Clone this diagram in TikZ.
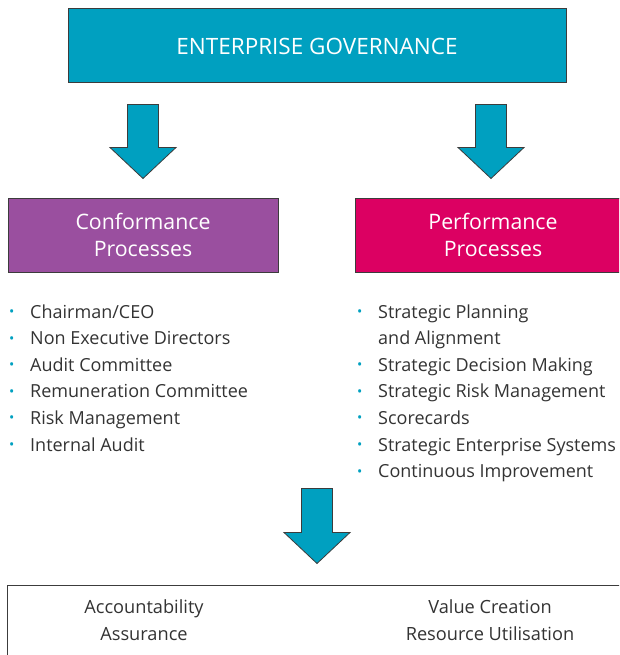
\documentclass[tikz,border=0pt]{standalone}
\usepackage{fontspec}
\setmainfont{Open Sans}
\usetikzlibrary{calc}
\definecolor{govblue}{HTML}{00A0C0}
\definecolor{confpurple}{HTML}{9A4F9F}
\definecolor{perfred}{HTML}{DC0062}
\definecolor{textgray}{HTML}{333333}
\definecolor{boxline}{HTML}{3C3C3C}
% block arrow pointing down: (top of shaft)(tip)
\def\blockarrow(#1)(#2){\draw[arrowfill] ($(#1)+(-15.5,0)$) -- ($(#1)+(15.5,0)$) -- ($(#2)+(15.5,-31)$) -- ($(#2)+(33,-31)$) -- (#2) -- ($(#2)+(-33,-31)$) -- ($(#2)+(-15.5,-31)$) -- cycle;}
\newcommand{\bul}{\makebox[21pt][l]{\textcolor{govblue}{\fontsize{14}{14}\selectfont\raisebox{1.6pt}{•}}}}

\begin{document}
\begin{tikzpicture}[x=1pt,y=-1pt,
  box/.style={draw=boxline, line width=1pt, inner sep=0pt, text=white, align=center, minimum height=74pt},
  arrowfill/.style={fill=govblue, draw=boxline, line width=0.8pt, line join=miter},
  itemlist/.style={anchor=base west, align=left, inner sep=0pt, text=textgray, font=\fontsize{18}{26.6}\selectfont},
  outcome/.style={align=center, inner sep=0pt, text=textgray, font=\fontsize{18.2}{26.5}\selectfont}]
		%%%%% START %%%%%
		\useasboundingbox (0,0) rectangle (619,655);
		\clip (0,0) rectangle (619,655);
		
		\node[box, fill=govblue, minimum width=498pt, font=\fontsize{22.5}{24}\selectfont] (gov) at (317,46) {ENTERPRISE GOVERNANCE};
		
		\node[box, fill=confpurple, minimum width=270pt, font=\fontsize{21.3}{26.5}\selectfont] (conf) at (143,235) {Conformance\\Processes};
		\node[box, fill=perfred, minimum width=276pt, font=\fontsize{21.3}{26.5}\selectfont] (perf) at (493,235) {Performance\\Processes};
		
		\coordinate (arrLtop) at ($(gov.south -| conf.north)+(0,21)$);
		\coordinate (arrLtip) at ($(conf.north)+(0,-19)$);
		\coordinate (arrRtop) at ($(gov.south -| 491,0)+(0,21)$);
		\coordinate (arrRtip) at ($(perf.north -| 491,0)+(0,-19)$);
		\blockarrow(arrLtop)(arrLtip)
		\blockarrow(arrRtop)(arrRtip)
		
		% anchored at the baseline of the last line
		\node[itemlist] (conflist) at (9,451) {\bul Chairman/CEO\\
			\bul Non Executive Directors\\
			\bul Audit Committee\\
			\bul Remuneration Committee\\
			\bul Risk Management\\
			\bul Internal Audit};
		
		\node[itemlist] (perflist) at (357,477.6) {\bul Strategic Planning\\
			\hspace*{21pt}and Alignment\\
			\bul Strategic Decision Making\\
			\bul Strategic Risk Management\\
			\bul Scorecards\\
			\bul Strategic Enterprise Systems\\
			\bul Continuous Improvement};
		
		\node[draw=boxline, line width=1pt, minimum width=620pt, minimum height=120pt, inner sep=0pt] (result) at (317,645) {};
		\coordinate (arrBtop) at ($(result.north)+(0,-96)$);
		\coordinate (arrBtip) at ($(result.north)+(0,-21)$);
		\blockarrow(arrBtop)(arrBtip)
		
		\node[outcome] (confout) at (144,620) {Accountability\\Assurance};
		\node[outcome] (perfout) at (490,620) {Value Creation\\Resource Utilisation};
		%%%%% END %%%%%
\end{tikzpicture}
\end{document}
